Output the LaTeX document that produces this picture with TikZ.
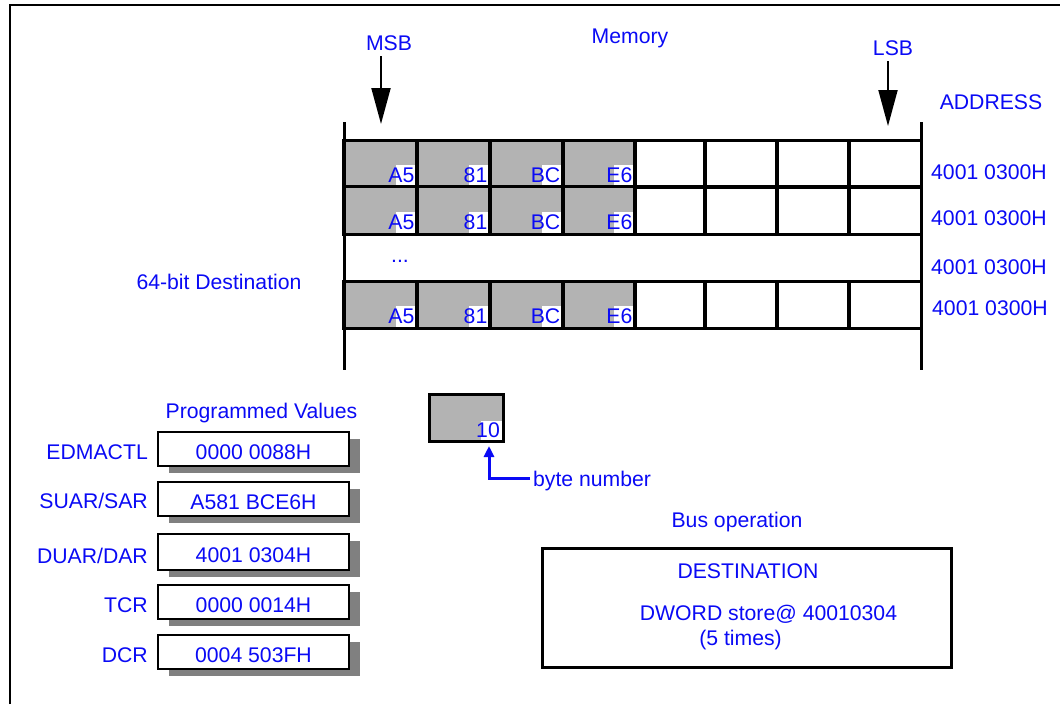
\documentclass[tikz,border=0pt]{standalone}
\usepackage{fontspec}
\setmainfont{Liberation Sans}
\usetikzlibrary{arrows.meta,shadows,calc}
\definecolor{txtblue}{RGB}{10,10,245}
\definecolor{cellgray}{RGB}{179,179,179}
\definecolor{shadowgray}{RGB}{128,128,128}
\begin{document}
\begin{tikzpicture}[x=1pt,y=-1pt,
  lbl/.style={font=\fontsize{21.2}{25}\selectfont, text=txtblue, inner sep=0pt, text height=15.2pt, text depth=0pt},
  gridline/.style={draw=black, line width=3pt},
  cellfill/.style={fill=cellgray, draw=none, inner sep=0pt},
  regbox/.style={draw=black, line width=2.6pt, fill=white, inner sep=0pt, minimum width=191pt,
    font=\fontsize{21.2}{25}\selectfont, text=txtblue, text height=20.2pt, text depth=0pt,
    drop shadow={shadow xshift=11pt, shadow yshift=-7pt, fill=shadowgray, opacity=1}},
  bigarrow/.style={draw=black, line width=2pt, -{Triangle[length=36pt, width=19pt]}},
  bluearrow/.style={draw=txtblue, line width=3pt, -{Triangle[length=11pt, width=10pt]}},
]
\useasboundingbox (0,0) rectangle (1060,704);
\fill[white] (0,0) rectangle (1060,704);
% outer frame
\draw[line width=2.5pt] (10,704) -- (10,5) -- (1060,5);

% titles
\node[lbl] (memory) at (630,35.5) {Memory};
\node[lbl] (msb) at (389,42.5) {MSB};
\node[lbl] (lsb) at (893,47.5) {LSB};
\node[lbl] (address) at (991,102) {ADDRESS};
\coordinate (msbtip) at (381,124);
\coordinate (lsbtip) at (888,126);
\draw[bigarrow] ($(msb.south -| msbtip)+(0,6)$) -- (msbtip);
\draw[bigarrow] ($(lsb.south -| lsbtip)+(0,6)$) -- (lsbtip);

% memory cells: fills
\foreach \r/\tp/\bt in {1/141/187, 2/187/234, 4/282/328}{
  \foreach \c/\l/\rr in {1/344/417, 2/417/490, 3/490/563, 4/563/635, 5/635/705, 6/705/777, 7/777/849, 8/849/921}{
    \ifnum\c<5
      \node[cellfill, minimum width={(\rr-\l)*1pt}, minimum height={(\bt-\tp)*1pt}] (cell-\r-\c) at ({(\l+\rr)/2},{(\tp+\bt)/2}) {};
    \else
      \node[inner sep=0pt, minimum width={(\rr-\l)*1pt}, minimum height={(\bt-\tp)*1pt}] (cell-\r-\c) at ({(\l+\rr)/2},{(\tp+\bt)/2}) {};
    \fi
  }
  \foreach \c/\rr/\t in {1/417/A5, 2/490/81, 3/563/BC, 4/635/E6}{
    \fill[white] ({\rr-21},{\bt-22}) rectangle ({\rr-1.5},{\bt-1.5});
    \node[lbl, anchor=base east] (val-\r-\c) at ({\rr-2.5},{\bt-5}) {\t};
  }
  \foreach \c in {1,...,8}{
    \draw[gridline] (cell-\r-\c.north west) rectangle (cell-\r-\c.south east);
  }
}
% memory side borders
\draw[gridline] (344,122) -- (344,370);
\draw[gridline] (921,122) -- (921,370);
\draw[gridline] (cell-2-1.south west) -- (cell-2-8.south east);
\draw[gridline] (cell-4-1.north west) -- (cell-4-8.north east);
\node[lbl, anchor=base] (dots) at (400,262) {...};

% addresses
\node[lbl, anchor=west] (addr1) at (931,172) {4001 0300H};
\node[lbl, anchor=west] (addr2) at (931,218) {4001 0300H};
\node[lbl, anchor=west] (addr3) at (931,267) {4001 0300H};
\node[lbl, anchor=west] (addr4) at (932,308) {4001 0300H};

\node[lbl] (dest) at (219,282) {64-bit Destination};

% programmed values
\node[lbl] (progval) at (261.5,410.5) {Programmed Values};
\node[regbox, minimum height=34pt] (edmactl) at (253.5,449) {0000 0088H};
\node[regbox, minimum height=34pt] (suar) at (253.5,499) {A581 BCE6H};
\node[regbox, minimum height=36pt, text height=21.2pt] (duar) at (253.5,552) {4001 0304H};
\node[regbox, minimum height=34pt] (tcr) at (253.5,602) {0000 0014H};
\node[regbox, minimum height=34pt] (dcr) at (253.5,652) {0004 503FH};
\node[lbl, anchor=east] (l-edmactl) at (148,451.5) {EDMACTL};
\node[lbl, anchor=east] (l-suar) at (148,501) {SUAR/SAR};
\node[lbl, anchor=east] (l-duar) at (148,555.5) {DUAR/DAR};
\node[lbl, anchor=east] (l-tcr) at (148,605) {TCR};
\node[lbl, anchor=east] (l-dcr) at (148,655) {DCR};

% byte number box
\node[cellfill, minimum width=73pt, minimum height=46pt] (bytebox) at (466.5,418) {};
\fill[white] (481,421) rectangle (501.5,439.5);
\node[lbl, anchor=base east] (ten) at (500,437) {10};
\draw[gridline] (bytebox.north west) rectangle (bytebox.south east);
\node[lbl, anchor=west] (bn) at (533,478.5) {byte number};
\coordinate (bntip) at (489,446);
\draw[bluearrow] ($(bn.west)+(-3,0)$) -| (bntip);

% bus operation
\node[lbl] (busop) at (737,519.5) {Bus operation};
\node[draw=black, line width=3pt, minimum width=409pt, minimum height=119pt, inner sep=0pt] (busbox) at (746.5,607.5) {};
\node[lbl] (destination) at (748,570.5) {DESTINATION};
\node[lbl] (dword) at (768.5,612.5) {DWORD store@ 40010304};
\node[lbl] (times) at (740.5,638) {(5 times)};
\end{tikzpicture}
\end{document}
